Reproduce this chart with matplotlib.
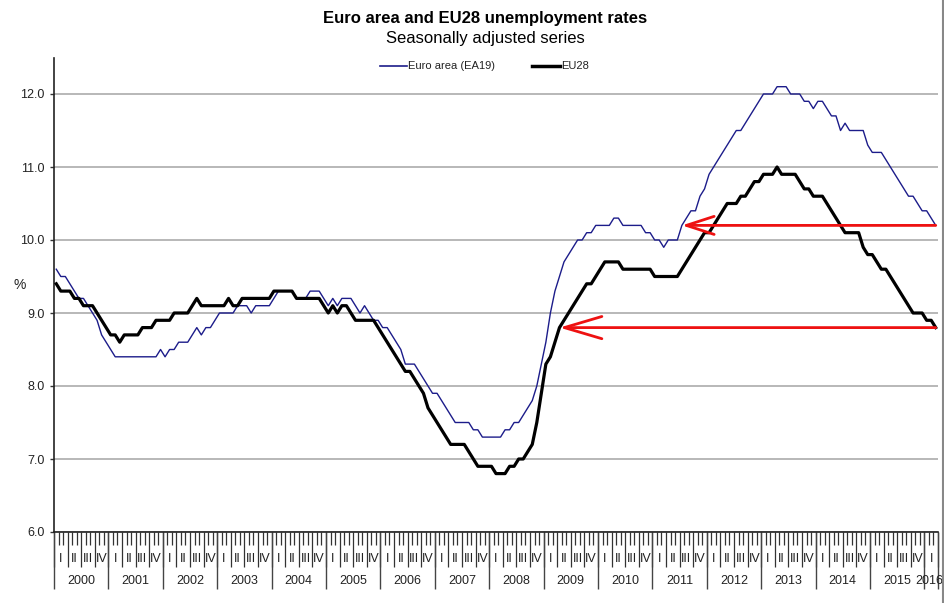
import numpy as np
import matplotlib
matplotlib.use("Agg")
import matplotlib.pyplot as plt
from matplotlib.lines import Line2D

plt.rcParams["font.family"] = ["Liberation Sans", "DejaVu Sans"]

# monthly rates, Jan 2000 .. Mar 2016
years = list(range(2000, 2017))
quarters = ["I", "II", "III", "IV"]

ea19 = [
    9.6, 9.5, 9.5, 9.4, 9.3, 9.2, 9.2, 9.1, 9.0, 8.9, 8.7, 8.6,        # 2000
    8.5, 8.4, 8.4, 8.4, 8.4, 8.4, 8.4, 8.4, 8.4, 8.4, 8.4, 8.5,        # 2001
    8.4, 8.5, 8.5, 8.6, 8.6, 8.6, 8.7, 8.8, 8.7, 8.8, 8.8, 8.9,        # 2002
    9.0, 9.0, 9.0, 9.0, 9.1, 9.1, 9.1, 9.0, 9.1, 9.1, 9.1, 9.1,        # 2003
    9.2, 9.3, 9.3, 9.3, 9.3, 9.2, 9.2, 9.2, 9.3, 9.3, 9.3, 9.2,        # 2004
    9.1, 9.2, 9.1, 9.2, 9.2, 9.2, 9.1, 9.0, 9.1, 9.0, 8.9, 8.9,        # 2005
    8.8, 8.8, 8.7, 8.6, 8.5, 8.3, 8.3, 8.3, 8.2, 8.1, 8.0, 7.9,        # 2006
    7.9, 7.8, 7.7, 7.6, 7.5, 7.5, 7.5, 7.5, 7.4, 7.4, 7.3, 7.3,        # 2007
    7.3, 7.3, 7.3, 7.4, 7.4, 7.5, 7.5, 7.6, 7.7, 7.8, 8.0, 8.3,        # 2008
    8.6, 9.0, 9.3, 9.5, 9.7, 9.8, 9.9, 10.0, 10.0, 10.1, 10.1, 10.2,   # 2009
    10.2, 10.2, 10.2, 10.3, 10.3, 10.2, 10.2, 10.2, 10.2, 10.2, 10.1, 10.1,  # 2010
    10.0, 10.0, 9.9, 10.0, 10.0, 10.0, 10.2, 10.3, 10.4, 10.4, 10.6, 10.7,   # 2011
    10.9, 11.0, 11.1, 11.2, 11.3, 11.4, 11.5, 11.5, 11.6, 11.7, 11.8, 11.9,  # 2012
    12.0, 12.0, 12.0, 12.1, 12.1, 12.1, 12.0, 12.0, 12.0, 11.9, 11.9, 11.8,  # 2013
    11.9, 11.9, 11.8, 11.7, 11.7, 11.5, 11.6, 11.5, 11.5, 11.5, 11.5, 11.3,  # 2014
    11.2, 11.2, 11.2, 11.1, 11.0, 10.9, 10.8, 10.7, 10.6, 10.6, 10.5, 10.4,  # 2015
    10.4, 10.3, 10.2,                                                  # 2016
]

eu28 = [
    9.4, 9.3, 9.3, 9.3, 9.2, 9.2, 9.1, 9.1, 9.1, 9.0, 8.9, 8.8,        # 2000
    8.7, 8.7, 8.6, 8.7, 8.7, 8.7, 8.7, 8.8, 8.8, 8.8, 8.9, 8.9,        # 2001
    8.9, 8.9, 9.0, 9.0, 9.0, 9.0, 9.1, 9.2, 9.1, 9.1, 9.1, 9.1,        # 2002
    9.1, 9.1, 9.2, 9.1, 9.1, 9.2, 9.2, 9.2, 9.2, 9.2, 9.2, 9.2,        # 2003
    9.3, 9.3, 9.3, 9.3, 9.3, 9.2, 9.2, 9.2, 9.2, 9.2, 9.2, 9.1,        # 2004
    9.0, 9.1, 9.0, 9.1, 9.1, 9.0, 8.9, 8.9, 8.9, 8.9, 8.9, 8.8,        # 2005
    8.7, 8.6, 8.5, 8.4, 8.3, 8.2, 8.2, 8.1, 8.0, 7.9, 7.7, 7.6,        # 2006
    7.5, 7.4, 7.3, 7.2, 7.2, 7.2, 7.2, 7.1, 7.0, 6.9, 6.9, 6.9,        # 2007
    6.9, 6.8, 6.8, 6.8, 6.9, 6.9, 7.0, 7.0, 7.1, 7.2, 7.5, 7.9,        # 2008
    8.3, 8.4, 8.6, 8.8, 8.9, 9.0, 9.1, 9.2, 9.3, 9.4, 9.4, 9.5,        # 2009
    9.6, 9.7, 9.7, 9.7, 9.7, 9.6, 9.6, 9.6, 9.6, 9.6, 9.6, 9.6,        # 2010
    9.5, 9.5, 9.5, 9.5, 9.5, 9.5, 9.6, 9.7, 9.8, 9.9, 10.0, 10.1,      # 2011
    10.1, 10.2, 10.3, 10.4, 10.5, 10.5, 10.5, 10.6, 10.6, 10.7, 10.8, 10.8,  # 2012
    10.9, 10.9, 10.9, 11.0, 10.9, 10.9, 10.9, 10.9, 10.8, 10.7, 10.7, 10.6,  # 2013
    10.6, 10.6, 10.5, 10.4, 10.3, 10.2, 10.1, 10.1, 10.1, 10.1, 9.9, 9.8,    # 2014
    9.8, 9.7, 9.6, 9.6, 9.5, 9.4, 9.3, 9.2, 9.1, 9.0, 9.0, 9.0,        # 2015
    8.9, 8.9, 8.8,                                                     # 2016
]

ea19 = np.array(ea19)
eu28 = np.array(eu28)
n = len(ea19)
months = np.arange(n)

BLUE = "#1c1c8a"
RED = "#ee1111"
GRID = "#ababab"
TXT = "#222222"

W, H = 945, 603
fig = plt.figure(figsize=(W / 100, H / 100), dpi=100)
ax = fig.add_axes([54 / W, 1 - 532 / H, (938 - 54) / W, (532 - 58) / H])

ax.plot(months, ea19, color=BLUE, lw=1.0, zorder=3)
ax.plot(months, eu28, color="black", lw=2.3, zorder=3)

ax.set_xlim(-0.5, n - 0.5)
ax.set_ylim(6.0, 6.0 + (532 - 58) / 73)

# y axis
ax.set_yticks(np.arange(6, 12.01, 1))
ax.set_yticklabels([f"{v:.1f}" for v in np.arange(6, 12.01, 1)])
ax.tick_params(axis="y", direction="out", length=3, width=1, color="#333333",
               labelsize=9, labelcolor=TXT, pad=4)
ax.yaxis.grid(True, color=GRID, lw=1.2)
ax.set_axisbelow(True)
for s in ["top", "right"]:
    ax.spines[s].set_visible(False)
ax.spines["left"].set_color("#222222")
ax.spines["bottom"].set_color("#222222")
ax.spines["left"].set_linewidth(1.2)
ax.spines["bottom"].set_linewidth(1.2)
fig.text(20 / W, 1 - 285 / H, "%", fontsize=10, color=TXT, ha="center", va="center")

# x axis: month ticks, quarter ticks, year separators
bounds = np.arange(-0.5, n, 1.0)
qb = np.arange(-0.5, n, 3.0)
ax.set_xticks(qb)
ax.set_xticks(bounds, minor=True)
ax.set_xticklabels([])
ax.tick_params(axis="x", which="major", direction="out", length=25, width=0.9, color="#333333")
ax.tick_params(axis="x", which="minor", direction="out", length=9, width=0.9, color="#333333")

ax_h = 532 - 58
yb = list(np.arange(-0.5, n, 12.0)) + [n - 0.5]
ax.vlines(yb, 0, -(589 - 532) / ax_h, transform=ax.get_xaxis_transform(),
          color="#444444", lw=1.0, clip_on=False)

xt = ax.get_xaxis_transform()
for q0 in np.arange(0, n, 3):
    lab = quarters[(q0 // 3) % 4]
    ax.text(q0 + 1, -(559 - 532) / ax_h, lab, transform=xt, ha="center", va="center",
            fontsize=9, color=TXT, clip_on=False)
for k, yr in enumerate(years):
    start = k * 12
    stop = min(start + 12, n)
    xc = (start + stop - 1) / 2
    if stop - start < 12:
        xc -= 0.5
    ax.text(xc, -(581 - 532) / ax_h, str(yr), transform=xt, ha="center",
            va="center", fontsize=9, color=TXT, clip_on=False)

# arrows: current value back to the month when it was last that level
last_i = n - 1
ea_tip = 133 + int(np.argmax(ea19[133:] >= ea19[-1]))
eu_tip = 100 + int(np.argmax(eu28[100:] >= eu28[-1]))
ax.annotate("", xy=(ea_tip, ea19[-1]), xytext=(last_i, ea19[-1]),
            arrowprops=dict(arrowstyle="->,head_length=2.0,head_width=0.65",
                            color=RED, lw=2.0, mutation_scale=10,
                            shrinkA=0, shrinkB=0), zorder=5)
ax.annotate("", xy=(eu_tip, eu28[-1]), xytext=(last_i, eu28[-1]),
            arrowprops=dict(arrowstyle="->,head_length=2.7,head_width=0.8",
                            color=RED, lw=2.0, mutation_scale=10,
                            shrinkA=0, shrinkB=0), zorder=5)

# titles
fig.text(485 / W, 1 - 19 / H, "Euro area and EU28 unemployment rates", ha="center",
         va="center", fontsize=12, fontweight="bold", color="black")
fig.text(485 / W, 1 - 38 / H, "Seasonally adjusted series", ha="center",
         va="center", fontsize=12, color="black")

# legend
ly = 1 - 66 / H
fig.add_artist(Line2D([380 / W, 407 / W], [ly, ly], color=BLUE, lw=1.2))
fig.text(408 / W, ly, "Euro area (EA19)", fontsize=8, va="center", ha="left", color=TXT)
fig.add_artist(Line2D([532 / W, 560 / W], [ly, ly], color="black", lw=2.5))
fig.text(561 / W, ly, "EU28", fontsize=8, va="center", ha="left", color=TXT)

# outer frame edge on the right
fig.add_artist(Line2D([943.5 / W, 943.5 / W], [0, 1], color="#888888", lw=1.5))

fig.savefig("out.png", dpi=100, facecolor="white")
